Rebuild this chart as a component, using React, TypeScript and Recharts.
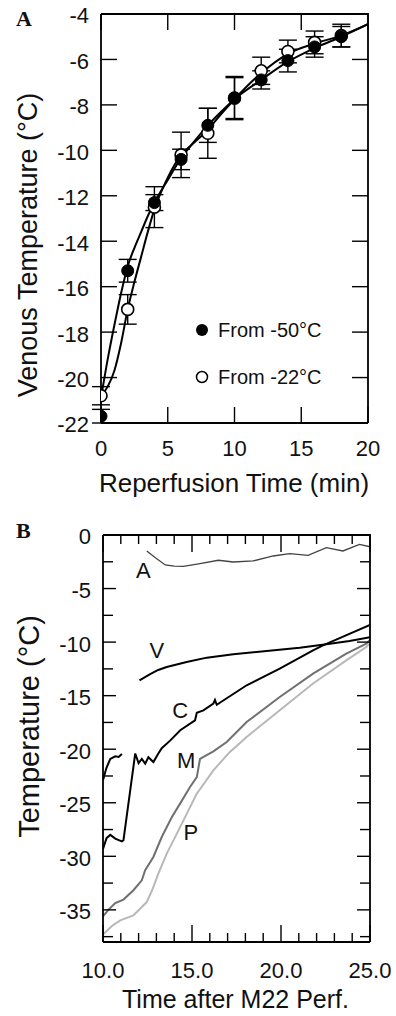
import { ComposedChart, Line, Scatter, ErrorBar, XAxis, YAxis } from 'recharts'

const FONT = '"Liberation Sans", Arial, Helvetica, sans-serif'
const SERIF = '"Liberation Serif", "Times New Roman", serif'
const INK = '#111'

// ---- panel A: venous temperature during reperfusion ----
const sampleTimes = [0, 2, 4, 6, 8, 10, 12, 14, 16, 18]
const from50Mean = [-21.7, -15.3, -12.3, -10.4, -8.9, -7.7, -6.9, -6.05, -5.45, -5.0]
const from50Err = [0.3, 0.5, 0.35, 0.45, 0.75, 0.9, 0.4, 0.5, 0.45, 0.45]
const from22Mean = [-20.8, -17.0, -12.5, -10.2, -9.25, -7.7, -6.5, -5.65, -5.25, -4.95]
const from22Err = [0.4, 0.65, 0.9, 1.0, 1.1, 0.95, 0.6, 0.5, 0.5, 0.5]

// fitted curves
const fitTimes = [0, 0.5, 1, 1.5, 2, 2.5, 3, 3.5, 4, 5, 6, 7, 8, 9, 10, 12, 14, 16, 18, 20]
const from50Fit = [-20.9, -19.2, -17.7, -16.3, -15.1, -14.3, -13.6, -12.9, -12.3, -11.3, -10.35, -9.6, -8.9, -8.3, -7.75, -6.9, -6.1, -5.5, -5.0, -4.45]
const from22Fit = [-20.8, -20.4, -19.7, -18.5, -17.0, -15.8, -14.7, -13.6, -12.6, -11.2, -10.2, -9.65, -9.1, -8.4, -7.75, -6.6, -5.75, -5.3, -4.95, -4.45]

const aXTicks = [0, 5, 10, 15, 20]
const aYTicks = [-22, -20, -18, -16, -14, -12, -10, -8, -6, -4]

// ---- panel B: temperatures after M22 perfusion ----
const arteryTime = [12.46, 13.0, 13.5, 14.0, 14.52, 15.45, 16.48, 17.32, 18.44, 19.56, 20.49, 21.52, 22.55, 23.48, 24.41, 25.0]
const arteryTemp = [-1.5, -2.2, -2.8, -2.9, -2.92, -2.67, -2.36, -2.52, -2.42, -1.96, -1.74, -1.9, -1.18, -1.49, -0.87, -1.1]

const veinTime = [12.05, 12.65, 13.1, 13.58, 14.7, 15.83, 17.32, 19.19, 21.05, 22.55, 23.85, 25.0]
const veinTemp = [-13.57, -13.0, -12.6, -12.32, -11.85, -11.45, -11.14, -10.83, -10.52, -10.2, -9.9, -9.55]

const coreTime = [10.0, 10.2, 10.41, 10.69, 11.06, 11.15, 11.81, 12.0, 12.18, 12.37, 12.55, 12.83, 13.11, 13.3, 13.77, 14.34, 15.17, 15.27, 15.64, 16.2, 16.29, 16.39, 18.07, 19.93, 21.8, 22.36, 25.0]
const coreTemp = [-29.3, -28.3, -28.0, -28.35, -28.6, -28.5, -20.4, -21.3, -20.9, -21.35, -20.75, -21.2, -20.4, -19.9, -19.2, -18.23, -17.3, -16.6, -16.37, -15.75, -15.4, -15.85, -14.03, -12.48, -10.77, -10.3, -8.4]

const coreEarlyTime = [10.0, 10.18, 10.41, 10.69, 10.88, 11.06]
const coreEarlyTemp = [-22.9, -21.8, -20.9, -20.66, -20.73, -20.45]

const muscleTime = [10.0, 10.3, 10.69, 11.15, 11.71, 12.18, 12.37, 12.83, 13.3, 13.87, 14.33, 14.89, 15.27, 15.45, 16.2, 16.95, 18.07, 19.93, 21.8, 23.67, 24.79, 25.0]
const muscleTemp = [-35.6, -35.0, -34.36, -34.04, -33.17, -32.24, -31.3, -30.06, -28.2, -26.33, -25.08, -23.53, -22.6, -20.9, -20.2, -19.33, -17.46, -15.13, -12.94, -11.07, -10.14, -9.8]

const peripheryTime = [10.0, 10.5, 10.97, 11.71, 12.18, 12.46, 12.8, 13.11, 13.58, 14.15, 14.71, 15.25, 16.2, 17.1, 18.07, 19.93, 21.8, 23.67, 24.79, 25.0]
const peripheryTemp = [-37.3, -36.5, -35.98, -35.51, -34.73, -34.27, -33.0, -31.62, -29.75, -27.88, -26.01, -24.2, -21.97, -20.3, -18.86, -16.37, -13.87, -11.7, -10.46, -10.1]

const curveNames = ['A', 'V', 'C', 'M', 'P']
const curveLabelTime = [12.27, 13.02, 14.33, 14.67, 14.93]
const curveLabelTemp = [-3.3, -10.7, -16.3, -21.04, -27.73]

const bXTicks = [10, 11, 12, 13, 14, 15, 16, 17, 18, 19, 20, 21, 22, 23, 24, 25]
const bXLabels = [10, 15, 20, 25]
const bYTicks = [0, -2.5, -5, -7.5, -10, -12.5, -15, -17.5, -20, -22.5, -25, -27.5, -30, -32.5, -35, -37.5]
const bYLabels = [0, -5, -10, -15, -20, -25, -30, -35]

const pts = (xs: number[], ys: number[]) => xs.map((x, i) => ({ x, y: ys[i] }))
const withErr = (xs: number[], ys: number[], es: number[]) => xs.map((x, i) => ({ x, y: ys[i], err: es[i] }))

type Frame = { left: number; right: number; top: number; bottom: number }

const yTick = (f: Frame, labels: number[], major: number, minor: number) => (p: any) => {
  const v = p.payload.value
  const y = p.y
  const isMajor = labels.includes(v)
  const len = isMajor ? major : minor
  return (
    <g>
      <line x1={f.left} x2={f.left + len} y1={y} y2={y} stroke="#000" strokeWidth={1.4} />
      <line x1={f.right - len} x2={f.right} y1={y} y2={y} stroke="#000" strokeWidth={1.4} />
      {isMajor && (
        <text x={f.left - 12} y={y + 1.5} dy="0.36em" textAnchor="end" fontFamily={FONT} fontSize={22} fill={INK}>
          {String(v)}
        </text>
      )}
    </g>
  )
}

const xTick = (f: Frame, labels: number[], major: number, minor: number, labelDy: number, fmt: (v: number) => string) => (p: any) => {
  const v = p.payload.value
  const x = p.x
  const isMajor = labels.includes(v)
  const len = isMajor ? major : minor
  return (
    <g>
      <line x1={x} x2={x} y1={f.bottom} y2={f.bottom - len} stroke="#000" strokeWidth={1.4} />
      <line x1={x} x2={x} y1={f.top} y2={f.top + len} stroke="#000" strokeWidth={1.4} />
      {isMajor && (
        <text x={x} y={f.bottom + labelDy} textAnchor="middle" fontFamily={FONT} fontSize={22} fill={INK}>
          {fmt(v)}
        </text>
      )}
    </g>
  )
}

const frameA: Frame = { left: 101, right: 368, top: 14, bottom: 423 }
const frameB: Frame = { left: 103, right: 370, top: 45, bottom: 452 }
const B_TOP = 490
const axisStroke = { stroke: '#000', strokeWidth: 1.8 }

function PanelA() {
  return (
    <ComposedChart width={396} height={480} margin={{ top: 14, right: 28, left: 0, bottom: 0 }}>
      <XAxis
        type="number"
        dataKey="x"
        domain={[0, 20]}
        ticks={aXTicks}
        interval={0}
        allowDataOverflow
        height={57}
        axisLine={axisStroke}
        tickLine={false}
        tick={xTick(frameA, aXTicks, 16, 16, 33, (v) => String(v))}
      />
      <YAxis
        type="number"
        dataKey="y"
        domain={[-22, -4]}
        ticks={aYTicks}
        interval={0}
        allowDataOverflow
        width={101}
        axisLine={axisStroke}
        tickLine={false}
        tick={yTick(frameA, aYTicks, 16, 16)}
      />
      <Line data={pts(fitTimes, from50Fit)} dataKey="y" type="monotone" stroke="#000" strokeWidth={2} dot={false} isAnimationActive={false} />
      <Line data={pts(fitTimes, from22Fit)} dataKey="y" type="monotone" stroke="#000" strokeWidth={2} dot={false} isAnimationActive={false} />
      <Scatter
        data={withErr(sampleTimes, from22Mean, from22Err)}
        dataKey="y"
        isAnimationActive={false}
        shape={(p: any) => <circle cx={p.cx} cy={p.cy} r={6} fill="#fff" stroke="#000" strokeWidth={1.6} />}
      >
        <ErrorBar dataKey="err" direction="y" width={9} stroke="#000" strokeWidth={1.4} />
      </Scatter>
      <Scatter
        data={withErr(sampleTimes, from50Mean, from50Err)}
        dataKey="y"
        isAnimationActive={false}
        shape={(p: any) => <circle cx={p.cx} cy={p.cy} r={6} fill="#000" stroke="#000" strokeWidth={1} />}
      >
        <ErrorBar dataKey="err" direction="y" width={9} stroke="#000" strokeWidth={1.4} />
      </Scatter>
    </ComposedChart>
  )
}

function PanelB() {
  const labels = curveNames.map((name, i) => ({ name, x: curveLabelTime[i], y: curveLabelTemp[i] }))
  return (
    <ComposedChart width={396} height={526} margin={{ top: 45, right: 26, left: 0, bottom: 0 }}>
      <XAxis
        type="number"
        dataKey="x"
        domain={[10, 25]}
        ticks={bXTicks}
        interval={0}
        allowDataOverflow
        height={74}
        axisLine={axisStroke}
        tickLine={false}
        tick={xTick(frameB, [10, 15, 20, 25], 17, 9, 36, (v) => (bXLabels.includes(v) ? v.toFixed(1) : ''))}
      />
      <YAxis
        type="number"
        dataKey="y"
        domain={[-38, 0]}
        ticks={bYTicks}
        interval={0}
        allowDataOverflow
        width={103}
        axisLine={axisStroke}
        tickLine={false}
        tick={yTick(frameB, bYLabels, 13, 10)}
      />
      <Line data={pts(peripheryTime, peripheryTemp)} dataKey="y" type="linear" stroke="#b8b8b8" strokeWidth={2} dot={false} isAnimationActive={false} />
      <Line data={pts(muscleTime, muscleTemp)} dataKey="y" type="linear" stroke="#707070" strokeWidth={2} dot={false} isAnimationActive={false} />
      <Line data={pts(arteryTime, arteryTemp)} dataKey="y" type="linear" stroke="#444" strokeWidth={1.3} dot={false} isAnimationActive={false} />
      <Line data={pts(veinTime, veinTemp)} dataKey="y" type="linear" stroke="#000" strokeWidth={2} dot={false} isAnimationActive={false} />
      <Line data={pts(coreTime, coreTemp)} dataKey="y" type="linear" stroke="#000" strokeWidth={2} dot={false} isAnimationActive={false} />
      <Line data={pts(coreEarlyTime, coreEarlyTemp)} dataKey="y" type="linear" stroke="#000" strokeWidth={2} dot={false} isAnimationActive={false} />
      <Scatter
        data={labels}
        dataKey="y"
        isAnimationActive={false}
        shape={(p: any) => (
          <text x={p.cx} y={p.cy} dy="0.36em" textAnchor="middle" fontFamily={FONT} fontSize={22} fill={INK}>
            {p.payload.name}
          </text>
        )}
      />
    </ComposedChart>
  )
}

export default function App() {
  return (
    <div style={{ position: 'absolute', left: 0, top: 0, width: 396, height: 1016, background: '#fff', overflow: 'hidden' }}>
      <div style={{ position: 'absolute', left: 0, top: 0 }}>
        <PanelA />
      </div>
      <div style={{ position: 'absolute', left: 0, top: B_TOP }}>
        <PanelB />
      </div>
      <div style={{ position: 'absolute', left: 195, top: 318, fontFamily: FONT, fontSize: 20, color: INK }}>
        <div style={{ display: 'flex', alignItems: 'center', height: 24 }}>
          <svg width={14} height={14}>
            <circle cx={7} cy={7} r={6} fill="#000" />
          </svg>
          <span style={{ marginLeft: 9 }}>From -50°C</span>
        </div>
        <div style={{ display: 'flex', alignItems: 'center', height: 24, marginTop: 23 }}>
          <svg width={14} height={14}>
            <circle cx={7} cy={7} r={5.5} fill="#fff" stroke="#000" strokeWidth={1.5} />
          </svg>
          <span style={{ marginLeft: 9 }}>From -22°C</span>
        </div>
      </div>
      <svg width={396} height={1016} style={{ position: 'absolute', left: 0, top: 0, pointerEvents: 'none' }}>
        <path
          d={`M${frameA.left},${frameA.top} H${frameA.right} V${frameA.bottom} M${frameB.left},${B_TOP + frameB.top} H${frameB.right} V${B_TOP + frameB.bottom}`}
          fill="none"
          stroke="#000"
          strokeWidth={1.8}
        />
        <text x={16} y={26} fontFamily={SERIF} fontWeight="bold" fontSize={22} fill={INK}>A</text>
        <text x={16} y={538} fontFamily={SERIF} fontWeight="bold" fontSize={22} fill={INK}>B</text>
        <text x={234} y={492} textAnchor="middle" fontFamily={FONT} fontSize={26} fill={INK}>Reperfusion Time (min)</text>
        <text transform="translate(36.5,245) rotate(-90)" textAnchor="middle" fontFamily={FONT} fontSize={27} fill={INK}>Venous Temperature (°C)</text>
        <text transform="translate(38.5,726.5) rotate(-90)" textAnchor="middle" fontFamily={FONT} fontSize={29} fill={INK}>Temperature (°C)</text>
        <text x={235.5} y={1008} textAnchor="middle" fontFamily={FONT} fontSize={25} fill={INK}>Time after M22 Perf.</text>
      </svg>
    </div>
  )
}
